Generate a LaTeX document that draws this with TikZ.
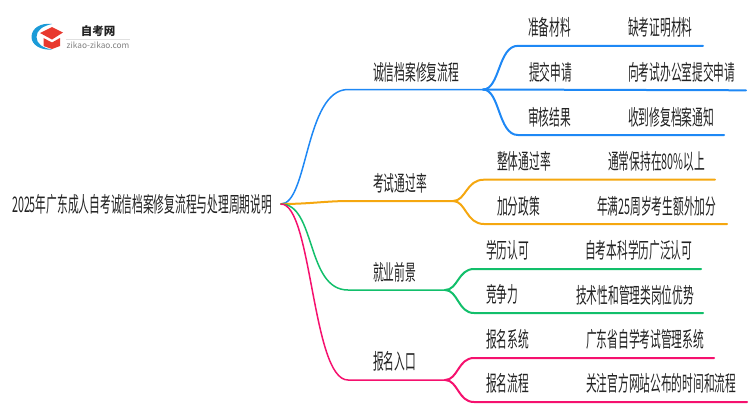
\documentclass[tikz,border=0pt]{standalone}
\usepackage{fontspec}
\setmainfont{Noto Sans CJK SC}
\definecolor{cblue}{HTML}{1E88F5}
\definecolor{clogo}{HTML}{1B9BD8}
\definecolor{cred}{HTML}{E8392F}
\definecolor{corange}{HTML}{F5A70F}
\definecolor{cgreen}{HTML}{12BF6B}
\definecolor{cpink}{HTML}{F5116E}
\definecolor{ctext}{HTML}{222222}
\tikzset{
  lbl/.style={anchor=west,inner sep=0pt,text=ctext,font=\fontsize{21.5}{22}\selectfont,xscale=0.499,transform shape},
  thick line/.style={line width=2pt,line cap=round},
  trunk/.style={line width=1.5pt,line cap=round},
}
\begin{document}
\begin{tikzpicture}[x=1pt,y=-1pt]
\useasboundingbox (0,0) rectangle (750,410);
% logo
\fill[clogo] (52,24) .. controls (41,22.5) and (31.5,28) .. (31.5,37) .. controls (31.5,45) and (41,50.5) .. (52,49.5)
  .. controls (43,48) and (36.5,44) .. (36.5,37) .. controls (36.5,30) and (43,26) .. (52,24) -- cycle;
\fill[cred] (40,33) -- (52,27) -- (63,32.5) -- (52,39.5) -- cycle;
\fill[cred] (43.5,38) -- (52,42.5) -- (60,38) -- (60,46) -- (52,49) -- (43.5,46) -- cycle;
\node[inner sep=0pt,text=ctext,font=\fontsize{11.5}{12}\selectfont\bfseries] (logoa) at (98,31) {自考网};
\node[inner sep=0pt,text=gray,font=\fontsize{8.3}{9}\selectfont] (logob) at (98,45) {zikao-zikao.com};
\draw[black!12,line width=.6pt] (66,39) -- (130,39);
% root
\node[lbl] (root) at (12,204) {2025年广东成人自考诚信档案修复流程与处理周期说明};
\coordinate (o) at (281,204);
% blue
\node[lbl] (a) at (373,72) {诚信档案修复流程};
\node[lbl] (a1) at (528,27.5) {准备材料};
\node[lbl] (a1x) at (628,27.5) {缺考证明材料};
\node[lbl] (a2) at (529,72) {提交申请};
\node[lbl] (a2x) at (628,72) {向考试办公室提交申请};
\node[lbl] (a3) at (528,117) {审核结果};
\node[lbl] (a3x) at (628,117) {收到修复档案通知};
\coordinate (aj) at (483,89.5);
\coordinate (ae1) at (703,45.8); \coordinate (ae2) at (746,90.3); \coordinate (ae3) at (724,135);
\draw[trunk,cblue] (o) .. controls (308,204) and (305,89.5) .. (348,89.5) -- (aj);
\draw[thick line,cblue] (aj) .. controls (500,89.5) and (498,45.8) .. (518,45.8) -- (ae1);
\draw[thick line,cblue] (aj) -- (ae2);
\draw[thick line,cblue] (aj) .. controls (500,89.5) and (498,135) .. (518,135) -- (ae3);
% orange
\node[lbl] (b) at (373,183) {考试通过率};
\node[lbl] (b1) at (497,161) {整体通过率};
\node[lbl] (b1x) at (608,161) {通常保持在80\%以上};
\node[lbl] (b2) at (497,206) {加分政策};
\node[lbl] (b2x) at (597,206) {年满25周岁考生额外加分};
\coordinate (bj) at (453,201);
\coordinate (be1) at (715,179.7); \coordinate (be2) at (727,224);
\draw[trunk,corange,line width=2pt] (o) .. controls (310,204) and (325,201) .. (350,201) -- (bj);
\draw[thick line,corange] (bj) .. controls (466,201) and (466,179.7) .. (484,179.7) -- (be1);
\draw[thick line,corange] (bj) .. controls (466,201) and (466,224) .. (484,224) -- (be2);
% green
\node[lbl] (c) at (373,272) {就业前景};
\node[lbl] (c1) at (486,250) {学历认可};
\node[lbl] (c1x) at (585,250) {自考本科学历广泛认可};
\node[lbl] (c2) at (486,294) {竞争力};
\node[lbl] (c2x) at (576,295) {技术性和管理类岗位优势};
\coordinate (cj) at (445,290);
\coordinate (ce1) at (701,269); \coordinate (ce2) at (703,313);
\draw[trunk,cgreen] (o) .. controls (316,204) and (306,290) .. (348,290) -- (cj);
\draw[thick line,cgreen] (cj) .. controls (458,290) and (458,269) .. (474,269) -- (ce1);
\draw[thick line,cgreen] (cj) .. controls (458,290) and (458,313) .. (474,313) -- (ce2);
% pink
\node[lbl] (d) at (373,361) {报名入口};
\node[lbl] (d1) at (486,339) {报名系统};
\node[lbl] (d1x) at (586,339) {广东省自学考试管理系统};
\node[lbl] (d2) at (486,383) {报名流程};
\node[lbl] (d2x) at (586,383) {关注官方网站公布的时间和流程};
\coordinate (dj) at (445,380);
\coordinate (de1) at (714,358); \coordinate (de2) at (747,402);
\draw[trunk,cpink] (o) .. controls (312,204) and (312,380) .. (348,380) -- (dj);
\draw[thick line,cpink] (dj) .. controls (458,380) and (458,358) .. (474,358) -- (de1);
\draw[thick line,cpink] (dj) .. controls (458,380) and (458,402) .. (474,402) -- (de2);
\end{tikzpicture}
\end{document}
